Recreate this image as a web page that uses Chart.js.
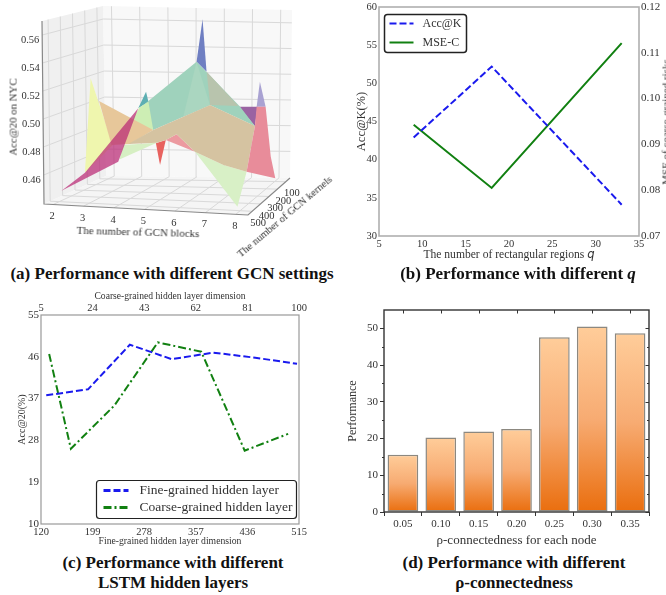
<!DOCTYPE html>
<html>
<head>
<meta charset="utf-8">
<script src="https://cdn.jsdelivr.net/npm/chart.js@4"></script>
<style>
html,body{margin:0;padding:0;background:#fff;overflow:hidden;width:666px;height:595px}
body{filter:blur(.35px)}
canvas{position:absolute}
.cap{position:absolute;font:bold 17px "Liberation Serif",serif;color:#111;text-align:center;white-space:nowrap;transform:translateX(-50%);line-height:20px}
.lab{position:absolute;font-family:"Liberation Serif",serif;color:#333;white-space:nowrap;transform:translate(-50%,-50%);line-height:1}
</style>
</head>
<body>
<canvas id="gcnChart" style="left:0;top:0" width="335" height="262"></canvas>
<canvas id="qChart" style="left:340px;top:0" width="340" height="250"></canvas>
<canvas id="lstmChart" style="left:0;top:290px" width="330" height="257"></canvas>
<canvas id="rhoChart" style="left:340px;top:305px" width="326" height="243"></canvas>

<div class="lab" style="left:138px;top:232px;font-size:11px;transform:translate(-50%,-50%) rotate(1.6deg)">The number of GCN blocks</div>
<div class="lab" style="left:285px;top:217px;font-size:10.5px;transform:translate(-50%,-50%) rotate(-40deg)">The number of GCN kernels</div>
<div class="lab" style="left:13px;top:117px;font-size:10.8px;transform:translate(-50%,-50%) rotate(-90deg)">Acc@20 on NYC</div>
<div class="lab" style="left:509px;top:255px;font-size:11.6px">The number of rectangular regions <i style="font-family:'DejaVu Sans'">q</i></div>
<div class="lab" style="left:666px;top:122px;font-size:11px;transform:translate(-50%,-50%) rotate(-90deg)">MSE of coarse-grained risks</div>

<div class="cap" style="left:172px;top:264px">(a) Performance with different GCN settings</div>
<div class="cap" style="left:518px;top:264px">(b) Performance with different <i>q</i></div>
<div class="cap" style="left:173px;top:553px">(c) Performance with different<br>LSTM hidden layers</div>
<div class="cap" style="left:514px;top:553px">(d) Performance with different<br>ρ-connectedness</div>

<script>
// panel (a): facets as [blocks, kernels, acc]
const blockTicks = [2, 3, 4, 5, 6, 7, 8];
const kernelTicks = [100, 200, 300, 400, 500];
const accTicks = [0.46, 0.48, 0.50, 0.52, 0.54, 0.56];
const blueSpike = [[6.09,300,.5693],[5.89,300,.5377],[6.23,300,.5305]];
const lilacSpike = [[7.44,100,.5160],[7.33,100,.4967],[7.65,100,.4968]];
const purpleFacet = [[7.01,200,.5009],[7.36,100,.4967],[7.59,200,.4866]];
const yellowFacet = [[3.07,500,.5292],[3.41,400,.4778],[2.86,500,.4611]];
const tealSpike = [[4.17,300,.5140],[3.90,300,.5015],[4.25,300,.5067]];
const tealFacet = [[4.08,300,.5041],[5.89,300,.5377],[7.38,300,.5054],[7.89,300,.4914],[6.35,300,.5058],[4.41,300,.4858]];
const paleTealFacet = [[5.89,300,.5377],[5.44,300,.4964],[6.35,300,.5058]];
const grayFacet = [[5.90,200,.5267],[7.01,200,.5014],[6.02,200,.5016]];
const greenWedge = [[3.94,300,.5022],[4.25,300,.5067],[4.41,300,.4858],[3.56,300,.4881]];
const orangeFacet = [[2.96,400,.5095],[4.41,300,.4858],[3.99,400,.4791],[3.37,400,.4778]];
const lowGreenFacet = [[3.63,400,.4675],[3.76,400,.4781],[4.53,300,.4765]];
const magentaFacet = [[2.08,500,.4473],[2.86,500,.4611],[4.27,400,.5054],[3.59,400,.4658]];
const redSpike = [[4.50,300,.4760],[4.84,300,.4787],[4.64,300,.4600]];
const pinkFacet = [[4.84,300,.4787],[5.21,300,.4832],[5.84,300,.4708]];
const tanFacet = [[3.93,400,.4790],[4.41,300,.4858],[6.02,200,.5016],[7.59,200,.4866],[7.62,300,.4572],[6.82,300,.4616],[5.84,300,.4708],[5.21,300,.4832],[4.84,300,.4787],[4.53,300,.4765]];
const bigGreenFacet = [[5.84,300,.4708],[6.82,300,.4616],[7.62,300,.4572],[7.91,500,.4421]];
const pinkRightFacet = [[7.33,100,.4967],[7.65,100,.4968],[7.85,100,.4584],[8.02,100,.4418],[7.62,300,.4572],[7.59,200,.4866]];

// panel (b)
const qValues = [9, 18, 33];
const accAtK = [42.9, 52.2, 34.1];
const mseC = [0.0943, 0.0805, 0.1121];

// panel (c)
const fineDims = [128, 192, 256, 320, 384, 448, 512];
const fineAcc = [37.7, 39, 48.6, 45.5, 46.9, 45.8, 44.5];
const coarseDims = [8, 16, 32, 48, 64, 80, 96];
const coarseAcc = [46.6, 26.2, 35.5, 49.1, 47.1, 25.8, 29.4];

// panel (d)
const rhoLabels = ['0.05', '0.10', '0.15', '0.20', '0.25', '0.30', '0.35'];
const rhoPerf = [15.6, 20.3, 21.9, 22.6, 47.6, 50.5, 48.7];

const SERIF = '"Liberation Serif", serif';
const BLUE = '#1a1aee', GREEN = '#118011';

// camera: where the 8 corners of the 3D box land on the flat view scale
const cube = { f0l:[44,204], f0r:[248,215], f1l:[42,21], f1r:[250,32], b0l:[106,176], b0r:[290,178], b1l:[103,6], b1r:[292,10] };
const bMin = 1.7, bMax = 8.4, kFront = 550, kBack = 50, aMin = 0.4393, aMax = 0.57;

function project(b, k, a) {
    const u = (b - bMin) / (bMax - bMin), v = (kFront - k) / (kFront - kBack), w = (a - aMin) / (aMax - aMin);
    const mix = (p, q, t) => [p[0] + (q[0] - p[0]) * t, p[1] + (q[1] - p[1]) * t];
    const f = mix(mix(cube.f0l, cube.f0r, u), mix(cube.f1l, cube.f1r, u), w);
    const r = mix(mix(cube.b0l, cube.b0r, u), mix(cube.b1l, cube.b1r, u), w);
    const p = mix(f, r, v);
    return { x: p[0], y: p[1] };
}
const toView = list => list.map(t => project(t[0], t[1], t[2]));

const pane = (list, color) => ({ data: toView(list), showLine: true, pointRadius: 0, borderWidth: 0, backgroundColor: color, fill: 'shape' });
const edge = (list, color, width) => ({ data: toView(list), showLine: true, pointRadius: 0, borderColor: color, borderWidth: width, fill: false });

const gcnSets = [
    pane([[bMin,kFront,aMin],[bMin,kBack,aMin],[bMin,kBack,aMax],[bMin,kFront,aMax]], '#f0f0f0'),
    pane([[bMin,kBack,aMin],[bMax,kBack,aMin],[bMax,kBack,aMax],[bMin,kBack,aMax]], '#f8f8f8'),
    pane([[bMin,kFront,aMin],[bMax,kFront,aMin],[bMax,kBack,aMin],[bMin,kBack,aMin]], '#f5f5f5')
];
const GRID = '#d9d9d9';
blockTicks.forEach(b => {
    gcnSets.push(edge([[b,kFront,aMin],[b,kBack,aMin],[b,kBack,aMax]], GRID, 1));
});
kernelTicks.forEach(k => {
    gcnSets.push(edge([[bMax,k,aMin],[bMin,k,aMin],[bMin,k,aMax]], GRID, 1));
});
accTicks.forEach(a => {
    gcnSets.push(edge([[bMin,kFront,a],[bMin,kBack,a],[bMax,kBack,a]], GRID, 1));
});
gcnSets.push(edge([[bMin,kFront,aMax],[bMin,kFront,aMin],[bMax,kFront,aMin],[bMax,kBack,aMin]], '#888', 1.2));
[
    [blueSpike, '#6f7fc2'], [lilacSpike, '#a9a2d2'], [purpleFacet, '#9a63a2'], [yellowFacet, '#eff6ae'],
    [tealSpike, '#5dafb2'], [tealFacet, '#9fd2bc'], [paleTealFacet, '#aad6c0'], [grayFacet, '#b8c4ad'], [greenWedge, '#cdeeb4'],
    [lowGreenFacet, '#d6efc3'], [orangeFacet, '#e7c79a'], [magentaFacet, 'rgba(186,40,116,0.72)'],
    [redSpike, '#e8625f'], [pinkFacet, '#ec9aa0'], [bigGreenFacet, '#d8f0c6'], [tanFacet, '#d5c3a1'], [pinkRightFacet, '#e88c9a']
].forEach(f => gcnSets.push(pane(f[0], f[1])));
// Chart.js paints the first dataset last
gcnSets.reverse();

// tick text of the 3D box, placed through the chart's scales
const boxLabels = {
    id: 'boxLabels',
    afterDraw(chart) {
        const { ctx, scales: { x, y } } = chart;
        const put = (text, p, dx, dy) => ctx.fillText(text, x.getPixelForValue(p.x) + dx, y.getPixelForValue(p.y) + dy);
        ctx.save();
        ctx.font = '10.5px ' + SERIF;
        ctx.fillStyle = '#333';
        ctx.textAlign = 'center';
        ctx.textBaseline = 'middle';
        blockTicks.forEach(b => put(String(b), project(b, kFront, aMin), -1, 12));
        kernelTicks.forEach(k => put(String(k), project(bMax, k, aMin), 6, 12));
        accTicks.forEach(a => put(a.toFixed(2), project(bMin, kFront, a), -12, 5));
        ctx.restore();
    }
};

new Chart(document.getElementById('gcnChart'), {
    type: 'scatter',
    data: { datasets: gcnSets },
    plugins: [boxLabels],
    options: {
        responsive: false, animation: false,
        layout: { padding: 0 },
        plugins: { legend: { display: false }, tooltip: { enabled: false } },
        scales: {
            x: { display: false, min: 0, max: 335 },
            y: { display: false, min: 0, max: 262, reverse: true }
        }
    }
});

// fixed margins so that the plot boxes land where they should
const fit = n => ({
    afterFit(s) {
        if (s.isHorizontal()) s.height = n; else s.width = n;
        s.paddingLeft = s.paddingRight = s.paddingTop = s.paddingBottom = 0;
    }
});

// frame round the plot area and the rounded legend box
const framePlugin = {
    id: 'frame',
    afterDatasetsDraw(chart, args, opts) {
        const { ctx, chartArea: a } = chart;
        ctx.save();
        ctx.strokeStyle = opts.color;
        ctx.lineWidth = opts.width;
        ctx.strokeRect(a.left, a.top, a.right - a.left, a.bottom - a.top);
        const box = opts.legend;
        if (box) {
            ctx.fillStyle = '#fff';
            ctx.strokeStyle = '#222';
            ctx.lineWidth = box.border;
            ctx.beginPath();
            ctx.roundRect(box.x, box.y, box.w, box.h, 3);
            ctx.fill();
            ctx.stroke();
            chart.data.datasets.forEach((ds, i) => {
                const ly = box.y + box.first + i * box.step;
                ctx.beginPath();
                ctx.setLineDash(ds.borderDash || []);
                ctx.strokeStyle = ds.borderColor;
                ctx.lineWidth = box.line;
                ctx.moveTo(box.x + box.lineX, ly);
                ctx.lineTo(box.x + box.lineX + box.lineLen, ly);
                ctx.stroke();
                ctx.setLineDash([]);
                ctx.font = box.font + 'px ' + SERIF;
                ctx.fillStyle = '#333';
                ctx.textBaseline = 'middle';
                ctx.fillText(ds.label, box.x + box.textX, ly);
            });
        }
        ctx.restore();
    }
};

const line = (label, xs, ys, color, dash, axes) => ({
    label, ...axes,
    data: xs.map((x, i) => ({ x, y: ys[i] })),
    showLine: true, pointRadius: 0, borderColor: color, borderWidth: 2, borderDash: dash
});
const plainTicks = (size, extra) => ({ font: { family: SERIF, size }, color: '#333', padding: 2, maxRotation: 0, autoSkip: false, ...extra });
const noGrid = { display: false, drawTicks: false };

new Chart(document.getElementById('qChart'), {
    type: 'scatter',
    data: { datasets: [
        line('Acc@K', qValues, accAtK, BLUE, [7, 3], { yAxisID: 'y' }),
        line('MSE-C', qValues, mseC, GREEN, [], { yAxisID: 'y1' })
    ] },
    plugins: [framePlugin],
    options: {
        responsive: false, animation: false,
        layout: { padding: { top: 7 } },
        plugins: {
            legend: { display: false }, tooltip: { enabled: false },
            frame: { color: '#b0b0b0', width: 1.6, legend: { x: 44.5, y: 14.5, w: 82, h: 38, border: 1.5, first: 9, step: 19, line: 2, lineX: 5, lineLen: 24, textX: 38, font: 12 } }
        },
        scales: {
            x: { type: 'linear', min: 5, max: 35, grid: noGrid, border: { display: false }, ticks: plainTicks(10.5, { stepSize: 5 }), ...fit(14) },
            y: { min: 30, max: 60, grid: noGrid, border: { display: false }, ticks: plainTicks(10.5, { stepSize: 5 }),
                 title: { display: true, text: 'Acc@K(%)', font: { family: SERIF, size: 12.5 }, color: '#333', padding: { top: 14, bottom: 0 } }, ...fit(39) },
            y1: { position: 'right', min: 0.07, max: 0.12, grid: noGrid, border: { display: false },
                  ticks: plainTicks(11, { stepSize: 0.01, callback: v => v.toFixed(2) }), ...fit(41) }
        }
    }
});

new Chart(document.getElementById('lstmChart'), {
    type: 'scatter',
    data: { datasets: [
        line('Fine-grained hidden layer', fineDims, fineAcc, BLUE, [7, 3], { xAxisID: 'x' }),
        line('Coarse-grained hidden layer', coarseDims, coarseAcc, GREEN, [8, 3, 2, 3], { xAxisID: 'x2' })
    ] },
    plugins: [framePlugin],
    options: {
        responsive: false, animation: false,
        layout: { padding: { right: 31 } },
        plugins: {
            legend: { display: false }, tooltip: { enabled: false },
            frame: { color: '#999', width: 1.2, legend: { x: 96.5, y: 190.5, w: 200, h: 38, border: 1.2, first: 10, step: 17, line: 3, lineX: 7, lineLen: 25, textX: 43, font: 13.5 } }
        },
        scales: {
            x: { position: 'bottom', min: 120, max: 515, grid: noGrid, border: { display: false }, ticks: plainTicks(10.5, { stepSize: 79 }),
                 title: { display: true, text: 'Fine-grained hidden layer dimension', font: { family: SERIF, size: 9.7 }, color: '#333', padding: 0 }, ...fit(23) },
            x2: { position: 'top', min: 5, max: 100, grid: noGrid, border: { display: false }, ticks: plainTicks(10.5, { stepSize: 19, padding: 0 }),
                  title: { display: true, text: 'Coarse-grained hidden layer dimension', font: { family: SERIF, size: 9.6 }, color: '#333', padding: { top: 1, bottom: 0 } }, ...fit(25) },
            y: { min: 10, max: 55, grid: noGrid, border: { display: false }, ticks: plainTicks(11, { stepSize: 9 }),
                 title: { display: true, text: 'Acc@20(%)', font: { family: SERIF, size: 10 }, color: '#333', padding: { top: 16, bottom: 0 } }, ...fit(41) }
        }
    }
});

// panel (d) marks: minor ticks plus the ticks on the top and right sides
const originTicks = {
    id: 'originTicks',
    afterDatasetsDraw(chart) {
        const { ctx, chartArea: a, scales: { x, y } } = chart;
        ctx.save();
        ctx.strokeStyle = '#333';
        ctx.lineWidth = 1;
        ctx.beginPath();
        for (let v = 0; v <= 50; v += 5) {
            const p = Math.round(y.getPixelForValue(v)) + 0.5, len = v % 10 ? 2 : 3.5;
            ctx.moveTo(a.left - (v % 10 ? 2 : 0), p); ctx.lineTo(a.left, p);
            ctx.moveTo(a.right, p); ctx.lineTo(a.right - len, p);
        }
        rhoLabels.forEach((c, i) => {
            const p = Math.round(x.getPixelForValue(i)) + 0.5;
            ctx.moveTo(p, a.top); ctx.lineTo(p, a.top + 3.5);
        });
        ctx.stroke();
        ctx.restore();
    }
};

new Chart(document.getElementById('rhoChart'), {
    type: 'bar',
    data: {
        labels: rhoLabels,
        datasets: [{
            data: rhoPerf,
            barPercentage: 0.81, categoryPercentage: 1,
            borderColor: '#8c8880', borderWidth: 1.5, borderSkipped: false,
            backgroundColor(c) {
                const { ctx, scales: { y } } = c.chart;
                const top = y ? y.getPixelForValue(c.raw) : NaN, base = y ? y.getPixelForValue(0) : NaN;
                if (!isFinite(top) || !isFinite(base)) return '#f5a96c';
                const g = ctx.createLinearGradient(0, top, 0, base);
                g.addColorStop(0, '#ffcd9a');
                g.addColorStop(0.5, '#f7ab72');
                g.addColorStop(1, '#ea6e0e');
                return g;
            }
        }]
    },
    plugins: [framePlugin, originTicks],
    options: {
        responsive: false, animation: false,
        layout: { padding: { top: 5, right: 17 } },
        plugins: { legend: { display: false }, tooltip: { enabled: false }, frame: { color: '#333', width: 1.4 } },
        scales: {
            x: { grid: { display: true, drawOnChartArea: false, color: '#333', tickLength: 4 }, border: { display: false },
                 ticks: plainTicks(11, { padding: 2 }),
                 title: { display: true, text: 'ρ-connectedness for each node', font: { family: SERIF, size: 13 }, color: '#333', padding: 0 }, ...fit(36) },
            y: { min: 0, max: 55, grid: { display: true, drawOnChartArea: false, color: '#333', tickLength: 4 }, border: { display: false },
                 ticks: plainTicks(11, { stepSize: 10, includeBounds: false }),
                 title: { display: true, text: 'Performance', font: { family: SERIF, size: 12 }, color: '#333', padding: { top: 6, bottom: 0 } }, ...fit(44) }
        }
    }
});
</script>
</body>
</html>
